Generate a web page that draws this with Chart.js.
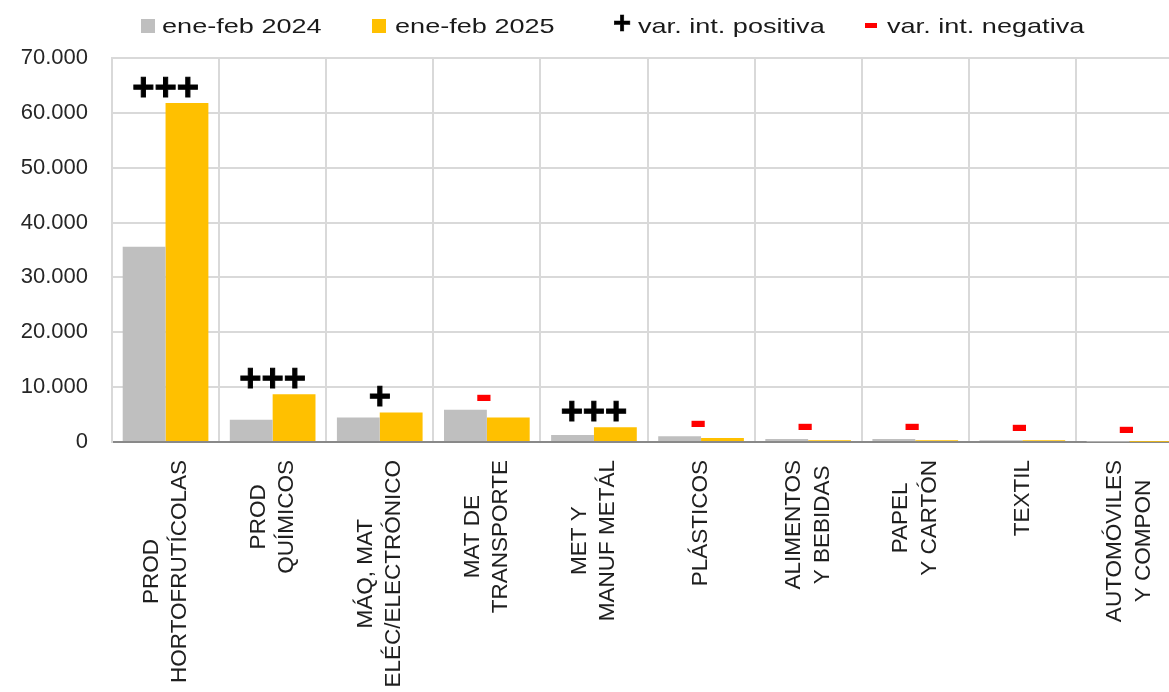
<!DOCTYPE html>
<html lang="es">
<head>
<meta charset="utf-8">
<script src="https://cdn.jsdelivr.net/npm/chart.js@4.4.1/dist/chart.umd.min.js"></script>
<style>
  html, body { margin: 0; padding: 0; background: #fff; overflow: hidden; }
  #wrap { position: relative; width: 1169px; height: 692px; overflow: hidden; }
  #grafico { position: absolute; left: 0; top: 0; }
  .ley { position: absolute; font-family: "Liberation Sans", Arial, sans-serif; color: #1a1a1a; white-space: nowrap; }
  .txt { font-size: 21px; line-height: 21px; top: 15px; transform: scaleX(1.29); transform-origin: left center; }
  .caja { width: 14px; height: 14px; top: 19px; }
  .mas { font-size: 31px; line-height: 31px; font-weight: bold; top: 7px; color: #000; -webkit-text-stroke: 0.6px #000; }
  .menos { width: 12px; height: 5px; top: 23px; background: #ff0000; }
</style>
</head>
<body>
<div id="wrap">
  <canvas id="grafico" width="1184" height="692"></canvas>
  <div class="ley caja" style="left:141px;background:#bfbfbf"></div>
  <div class="ley txt" style="left:162px">ene-feb 2024</div>
  <div class="ley caja" style="left:372px;background:#ffc000"></div>
  <div class="ley txt" style="left:395px">ene-feb 2025</div>
  <div class="ley mas" style="left:613px">+</div>
  <div class="ley txt" style="left:638px">var. int. positiva</div>
  <div class="ley menos" style="left:865px"></div>
  <div class="ley txt" style="left:887px">var. int. negativa</div>
</div>
<script>
// categorías (cada una en sus líneas)
const categorias = [
    ['PROD', 'HORTOFRUTÍCOLAS'],
    ['PROD', 'QUÍMICOS'],
    ['MÁQ, MAT', 'ELÉC/ELECTRÓNICO'],
    ['MAT DE', 'TRANSPORTE'],
    ['MET Y', 'MANUF METÁL'],
    ['PLÁSTICOS'],
    ['ALIMENTOS', 'Y BEBIDAS'],
    ['PAPEL', 'Y CARTÓN'],
    ['TEXTIL'],
    ['AUTOMÓVILES', 'Y COMPON']
];

// valores
const ene_feb_2024 = [35600, 4050, 4450, 5900, 1280, 1050, 550, 550, 300, 50];
const ene_feb_2025 = [61800, 8700, 5400, 4450, 2680, 750, 300, 300, 300, 30];

// variación interanual
const variacion = ['+++', '+++', '+', '-', '+++', '-', '-', '-', '-', '-'];

// ticks del eje Y
const ticksY = [0, 10000, 20000, 30000, 40000, 50000, 60000, 70000];

const fuente = '"Liberation Sans", Arial, sans-serif';

function formatoMiles(v) {
    return String(v).replace(/\B(?=(\d{3})+(?!\d))/g, '.');
}

// etiquetas del eje X giradas, con las líneas centradas
const etiquetasX = {
    id: 'etiquetasX',
    afterDraw(chart) {
        const ctx = chart.ctx;
        const x = chart.scales.x;
        ctx.save();
        ctx.font = '22.5px ' + fuente;
        ctx.fillStyle = '#1f1f1f';
        ctx.textAlign = 'center';
        ctx.textBaseline = 'middle';
        categorias.forEach((lineas, i) => {
            const cx = x.getPixelForValue(i);
            const w = Math.max(...lineas.map(l => ctx.measureText(l).width));
            ctx.save();
            ctx.translate(cx, x.top + 18 + w / 2);
            ctx.rotate(-Math.PI / 2);
            lineas.forEach((l, j) => {
                ctx.fillText(l, 0, (j - (lineas.length - 1) / 2) * 28.5);
            });
            ctx.restore();
        });
        ctx.restore();
    }
};

// marcas de variación encima de cada grupo
const marcas = {
    id: 'marcas',
    afterDatasetsDraw(chart) {
        const ctx = chart.ctx;
        const x = chart.scales.x;
        const y = chart.scales.y;
        ctx.save();
        ctx.textAlign = 'center';
        ctx.textBaseline = 'alphabetic';
        variacion.forEach((v, i) => {
            const top = y.getPixelForValue(Math.max(ene_feb_2024[i], ene_feb_2025[i]));
            const cx = x.getPixelForValue(i);
            if (v.charAt(0) === '+') {
                ctx.font = 'bold 38px ' + fuente;
                ctx.fillStyle = '#000';
                ctx.strokeStyle = '#000';
                ctx.lineWidth = 1;
                ctx.fillText(v, cx, top - 3);
                ctx.strokeText(v, cx, top - 3);
            } else {
                ctx.font = 'bold 52px ' + fuente;
                ctx.fillStyle = '#ff0000';
                ctx.fillText(v, cx - 3, top + 1);
            }
        });
        ctx.restore();
    }
};

const ctx = document.getElementById('grafico').getContext('2d');
new Chart(ctx, {
    type: 'bar',
    data: {
        labels: categorias,
        datasets: [{
            label: 'ene-feb 2024',
            data: ene_feb_2024,
            backgroundColor: '#bfbfbf',
            borderWidth: 0,
            categoryPercentage: 0.8,
            barPercentage: 1.0
        }, {
            label: 'ene-feb 2025',
            data: ene_feb_2025,
            backgroundColor: '#ffc000',
            borderWidth: 0,
            categoryPercentage: 0.8,
            barPercentage: 1.0
        }]
    },
    options: {
        responsive: false,
        animation: false,
        devicePixelRatio: 1,
        layout: { padding: { top: 58, right: 1, left: 0, bottom: 0 } },
        plugins: {
            legend: { display: false },
            tooltip: { enabled: false }
        },
        scales: {
            x: {
                grid: { color: '#d9d9d9', lineWidth: 2, drawTicks: false, offset: true },
                border: { color: '#898989', width: 2 },
                ticks: { display: false },
                afterFit(scale) { scale.height = 250; }
            },
            y: {
                min: 0,
                max: 70000,
                afterBuildTicks(scale) { scale.ticks = ticksY.map(v => ({ value: v })); },
                grid: { color: '#d9d9d9', lineWidth: 2, drawTicks: false },
                border: { color: '#d9d9d9', width: 2 },
                ticks: {
                    padding: 24,
                    color: '#262626',
                    font: { family: fuente, size: 22 },
                    callback: v => formatoMiles(v)
                },
                afterFit(scale) { scale.width = 112; }
            }
        }
    },
    plugins: [etiquetasX, marcas]
});
</script>
</body>
</html>
